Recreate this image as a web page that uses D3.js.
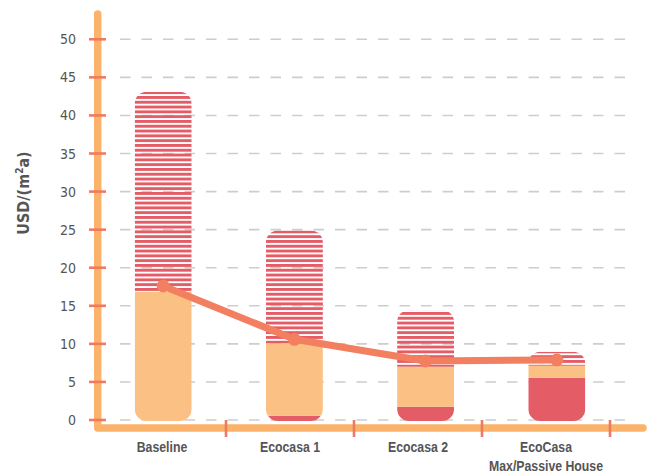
<!DOCTYPE html>
<html>
<head>
<meta charset="utf-8">
<script src="https://cdn.jsdelivr.net/npm/d3@7"></script>
<style>
  html, body { margin: 0; padding: 0; background: #fff; }
  svg { display: block; }
</style>
</head>
<body>
<svg id="chart" width="647" height="473"></svg>
<script>
// ---- data ----
const categories = ["Baseline", "Ecocasa 1", "Ecocasa 2", "EcoCasa Max/Passive House"];
const categoryLabels = [["Baseline"], ["Ecocasa 1"], ["Ecocasa 2"], ["EcoCasa", "Max/Passive House"]];
const solidRed = [0, 0.56, 1.75, 5.56];
const lightOrange = [16.85, 9.51, 5.25, 1.57];
const hatched = [26.25, 14.83, 7.45, 1.82];
const lineValues = [17.6, 10.6, 7.75, 7.88];
const yTicks = [0, 5, 10, 15, 20, 25, 30, 35, 40, 45, 50];

// ---- setup ----
const svg = d3.select("#chart");
const C = {
  axis: "#fbb36b",
  light: "#fbc184",
  red: "#e45c66",
  line: "#f27f60",
  tick: "#f07a60",
  grid: "#cdcdcd",
  text: "#555555"
};

const y = d3.scaleLinear().domain([0, 50]).range([420, 39.3]);
const xLab = d3.scaleBand().domain(categories).range([98, 610]);
const xBar = d3.scaleBand().domain(categories).range([97.6, 622.4]);
const barW = 57;
const cx = c => xBar(c) + xBar.bandwidth() / 2;

const defs = svg.append("defs");
const pat = defs.append("pattern")
  .attr("id", "hatch").attr("patternUnits", "userSpaceOnUse")
  .attr("width", 10).attr("height", 4.8);
pat.append("rect").attr("x", 0).attr("y", 0).attr("width", 10).attr("height", 2.9).attr("fill", C.red);

// gridlines
svg.append("g").selectAll("line").data(yTicks).join("line")
  .attr("x1", 120).attr("x2", 630)
  .attr("y1", d => y(d)).attr("y2", d => y(d))
  .attr("stroke", C.grid).attr("stroke-width", 1.6)
  .attr("stroke-dasharray", "10.5,11");

// bars
const stacks = categories.map((c, i) => {
  const a = solidRed[i], b = a + lightOrange[i], t = b + hatched[i];
  return { c, i, segs: [[0, a, C.red], [a, b, C.light], [b, t, "url(#hatch)"]], total: t };
});
stacks.forEach(s => {
  const id = "clip" + s.i;
  defs.append("clipPath").attr("id", id).append("rect")
    .attr("x", cx(s.c) - barW / 2).attr("width", barW)
    .attr("y", y(s.total)).attr("height", y(0) + 1 - y(s.total))
    .attr("rx", 12).attr("ry", 12);
  const g = svg.append("g").attr("clip-path", `url(#${id})`);
  s.segs.filter(d => d[1] > d[0]).forEach(d => {
    g.append("rect")
      .attr("x", cx(s.c) - barW / 2).attr("width", barW)
      .attr("y", y(d[1])).attr("height", (d[0] === 0 ? y(0) + 1 : y(d[0])) - y(d[1]))
      .attr("fill", d[2]);
  });
});

// line + points
const pts = categories.map((c, i) => [cx(c), y(lineValues[i])]);
svg.append("path").attr("d", d3.line()(pts))
  .attr("fill", "none").attr("stroke", C.line).attr("stroke-width", 7)
  .attr("stroke-linejoin", "round").attr("stroke-linecap", "round");
svg.append("g").selectAll("circle").data(pts).join("circle")
  .attr("cx", d => d[0]).attr("cy", d => d[1]).attr("r", 6.5).attr("fill", C.line);

// axes lines
svg.append("path")
  .attr("d", `M97.7,14 L97.7,428 L643,428`)
  .attr("fill", "none").attr("stroke", C.axis).attr("stroke-width", 7.5)
  .attr("stroke-linecap", "round").attr("stroke-linejoin", "round");

// y ticks
svg.append("g").selectAll("line").data(yTicks).join("line")
  .attr("x1", 89).attr("x2", 106)
  .attr("y1", d => y(d)).attr("y2", d => y(d))
  .attr("stroke", C.tick).attr("stroke-width", 2.6);

svg.append("g").selectAll("text").data(yTicks).join("text")
  .attr("x", 76).attr("y", d => y(d)).attr("dy", "0.36em")
  .attr("text-anchor", "end")
  .attr("font-family", "'DejaVu Sans Condensed', 'DejaVu Sans', sans-serif")
  .attr("font-size", 14).attr("fill", C.text)
  .text(d => d);

// x ticks at band boundaries
svg.append("g").selectAll("line").data(categories).join("line")
  .attr("x1", d => xLab(d) + xLab.bandwidth()).attr("x2", d => xLab(d) + xLab.bandwidth())
  .attr("y1", 420).attr("y2", 437)
  .attr("stroke", C.tick).attr("stroke-width", 2.6);

// x labels (narrowed)
categories.forEach((c, i) => {
  const t = svg.append("text")
    .attr("transform", `translate(${xLab(c) + xLab.bandwidth() / 2},452) scale(0.82,1)`)
    .attr("text-anchor", "middle")
    .attr("font-family", "'Liberation Sans', Arial, sans-serif")
    .attr("font-weight", "bold").attr("font-size", 15).attr("fill", C.text);
  categoryLabels[i].forEach((ln, j) => {
    t.append("tspan").attr("x", 0).attr("y", j * 19).text(ln);
  });
});

// y title
const yt = svg.append("text")
  .attr("transform", "translate(29,193) rotate(-90)")
  .attr("text-anchor", "middle")
  .attr("font-family", "'DejaVu Sans Condensed', 'DejaVu Sans', sans-serif")
  .attr("font-weight", "bold").attr("font-size", 16).attr("fill", C.text);
yt.append("tspan").text("USD/(m");
yt.append("tspan").attr("font-size", 10).attr("dy", -6).text("2");
yt.append("tspan").attr("dy", 6).text("a)");
</script>
</body>
</html>
